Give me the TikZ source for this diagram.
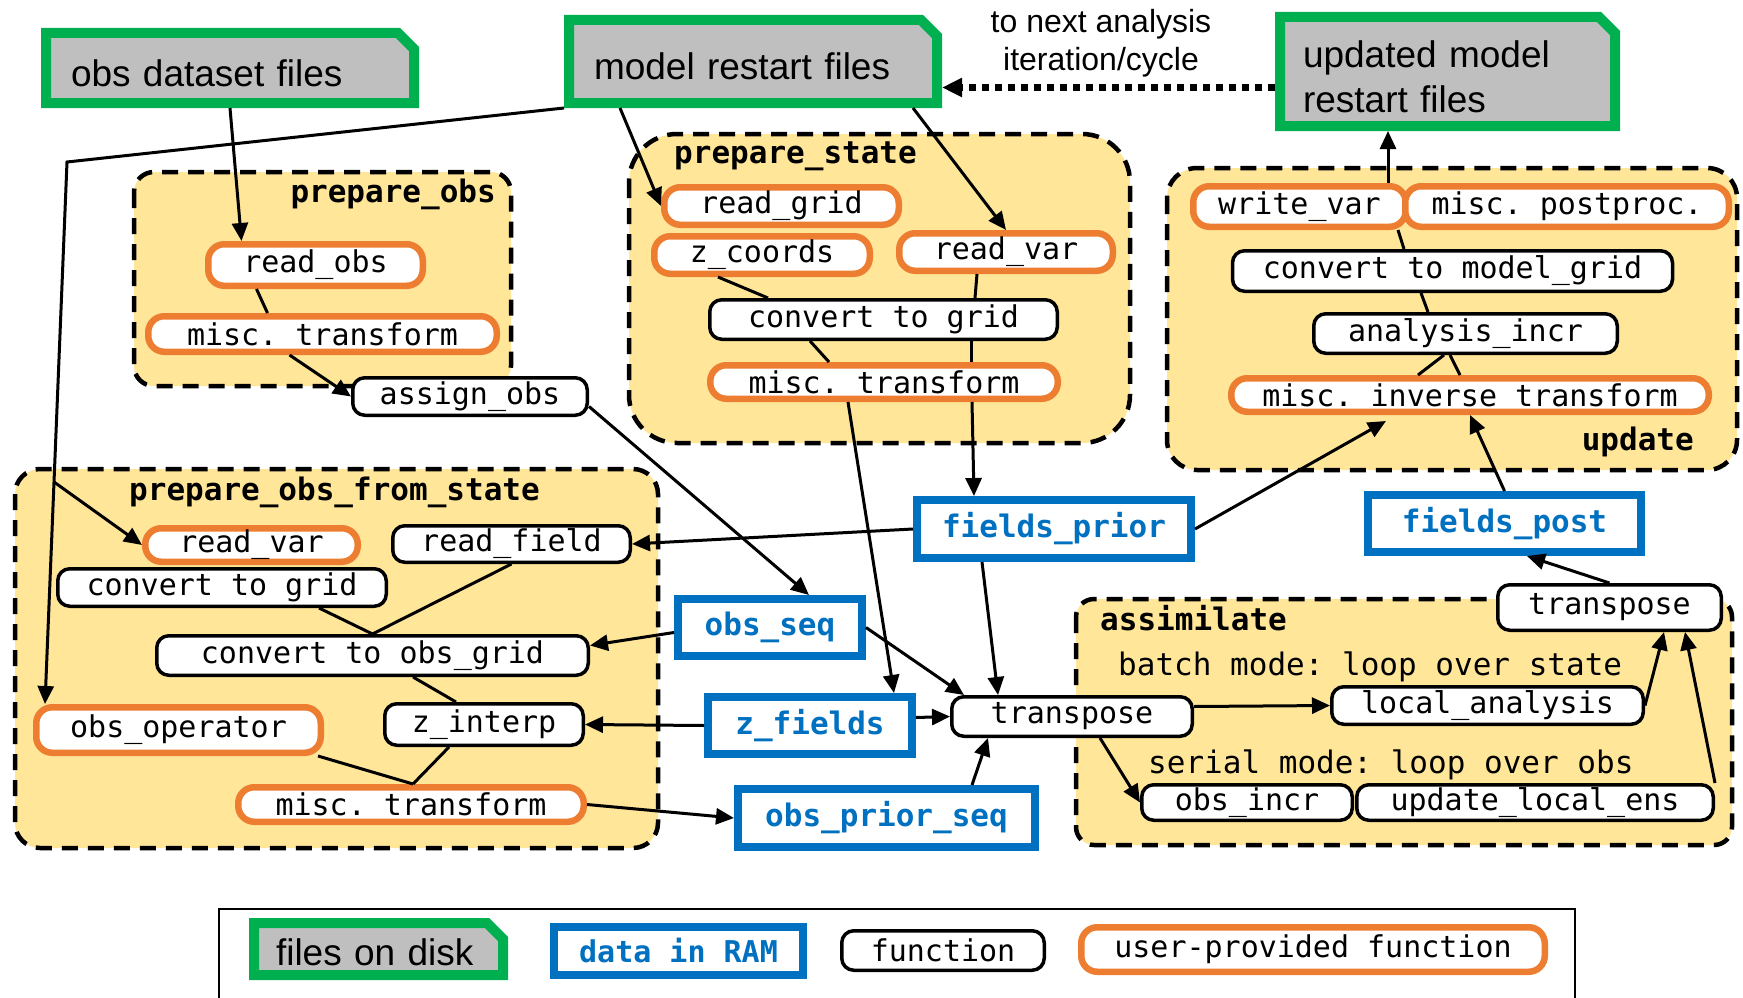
\documentclass[tikz,border=0pt]{standalone}
\usepackage{fontspec}
\setmainfont{Liberation Sans}
\setmonofont{DejaVu Sans Mono}
\usetikzlibrary{arrows.meta,shapes.misc}

\definecolor{diskgreen}{HTML}{00B050}
\definecolor{diskgray}{HTML}{BFBFBF}
\definecolor{ramblue}{HTML}{0070C0}
\definecolor{userorange}{HTML}{ED7D31}
\definecolor{groupyellow}{HTML}{FFE699}

\begin{document}
\begin{tikzpicture}[x=1pt, y=-1pt,
  disk/.style={chamfered rectangle, chamfered rectangle corners=north east,
    chamfered rectangle xsep=8pt, chamfered rectangle ysep=8pt,
    draw=diskgreen, fill=diskgray, line width=10pt, inner sep=0pt,
    text height=37pt, text depth=0pt,
    align=left, font=\fontsize{37}{45}\selectfont},
  ram/.style={rectangle, draw=ramblue, fill=white, line width=8pt, inner sep=0pt,
    text=ramblue, font=\fontsize{31}{36}\selectfont\ttfamily\bfseries},
  func/.style={rectangle, rounded corners=12pt, draw=black, fill=white,
    line width=3.5pt, inner sep=0pt, font=\fontsize{30}{34}\selectfont\ttfamily},
  ufunc/.style={func, rounded corners=16pt, draw=userorange, line width=6.5pt},
  group/.style={fill=groupyellow, draw=black, line width=4.5pt, dash pattern=on 16pt off 10pt},
  grouplabel/.style={inner sep=0pt, font=\fontsize{31}{36}\selectfont\ttfamily\bfseries},
  modelabel/.style={inner sep=0pt, font=\fontsize{31}{36}\selectfont\ttfamily},
  link/.style={line width=3pt},
  arr/.style={line width=3pt, -{Triangle[length=18pt,width=16pt]}}
]

\useasboundingbox (0,0) rectangle (1743,998);

\draw [group, rounded corners=20pt] (134,172) rectangle (511,386);
\draw [group, rounded corners=48pt] (629,134) rectangle (1130,443);
\draw [group, rounded corners=30pt] (1167,168) rectangle (1737,470);
\draw [group, rounded corners=25pt] (15,469) rectangle (658,848);
\draw [group, rounded corners=18pt] (1076,599) rectangle (1732,845);

\node [grouplabel, anchor=base east] (lblprepobs) at (496,202) {prepare\_obs};
\node [grouplabel, anchor=base west] (lblprepstate) at (674,163) {prepare\_state};
\node [grouplabel, anchor=base east] (lblupdate) at (1694,450) {update};
\node [grouplabel, anchor=base west] (lblfromstate) at (129,500) {prepare\_obs\_from\_state};
\node [grouplabel, anchor=base west] (lblassim) at (1100,630) {assimilate};
\node [modelabel, anchor=base west] (lblbatch) at (1118,675) {batch mode: loop over state};
\node [modelabel, anchor=base west] (lblserial) at (1148,773) {serial mode: loop over obs};

\node [font=\fontsize{32}{38}\selectfont, align=center] (lblnext) at (1101,43) {to next analysis\\iteration/cycle};

\node [disk, minimum width=368pt, minimum height=70pt, text width=318pt] (obsfiles) at (230,68) {obs dataset files};
\node [disk, minimum width=368pt, minimum height=83pt, text width=318pt] (modelfiles) at (753,61.5) {model restart files};
\node [disk, minimum width=335pt, minimum height=109pt, text width=289pt, text height=36pt, text depth=45pt] (updfiles) at (1447.5,71.5) {updated model\\restart files};

\node [ufunc, minimum width=214.5pt, minimum height=41.5pt] (readobs) at (315.5,265) {read\_obs};
\node [ufunc, minimum width=348.5pt, minimum height=35.5pt] (misctrA) at (322.5,334) {misc. transform};
\node [func, minimum width=234.5pt, minimum height=37.5pt] (assignobs) at (470,396.5) {assign\_obs};

\node [ufunc, minimum width=234.5pt, minimum height=37.5pt] (readgrid) at (781.5,206) {read\_grid};
\node [ufunc, minimum width=215.5pt, minimum height=37.5pt] (zcoords) at (762,255) {z\_coords};
\node [ufunc, minimum width=213.5pt, minimum height=37.5pt] (readvarS) at (1006,252) {read\_var};
\node [func, minimum width=347.5pt, minimum height=39.5pt] (convgridS) at (883.5,319.5) {convert to grid};
\node [ufunc, minimum width=347.5pt, minimum height=33.5pt] (misctrS) at (884,382) {misc. transform};

\node [ufunc, minimum width=212.5pt, minimum height=40.5pt] (writevar) at (1299.5,206.5) {write\_var};
\node [ufunc, minimum width=323.5pt, minimum height=40.5pt] (postproc) at (1567,206.5) {misc. postproc.};
\node [func, minimum width=440pt, minimum height=40.5pt] (convmodel) at (1452.5,271) {convert to model\_grid};
\node [func, minimum width=303.5pt, minimum height=39.5pt] (anaincr) at (1465.5,333.5) {analysis\_incr};
\node [ufunc, minimum width=477.5pt, minimum height=33.5pt] (misinv) at (1470,395) {misc. inverse transform};

\node [ufunc, minimum width=212.5pt, minimum height=33.5pt] (readvarO) at (251.5,545) {read\_var};
\node [func, minimum width=237.5pt, minimum height=36.5pt] (readfield) at (511.5,544) {read\_field};
\node [func, minimum width=328.5pt, minimum height=37.5pt] (convgridO) at (222,587.5) {convert to grid};
\node [func, minimum width=431.5pt, minimum height=39.5pt] (convobsgrid) at (372.5,655.5) {convert to obs\_grid};
\node [ufunc, minimum width=284.5pt, minimum height=45.5pt] (obsop) at (178.5,730) {obs\_operator};
\node [func, minimum width=198.5pt, minimum height=41.5pt] (zinterp) at (484,724.5) {z\_interp};
\node [ufunc, minimum width=345.5pt, minimum height=34.5pt] (misctrO) at (411,804.5) {misc. transform};

\node [ram, minimum width=274pt, minimum height=58pt] (fieldsprior) at (1054,529) {fields\_prior};
\node [ram, minimum width=273pt, minimum height=57pt] (fieldspost) at (1504.5,523.5) {fields\_post};
\node [ram, minimum width=184pt, minimum height=57pt] (obsseq) at (770,627.5) {obs\_seq};
\node [ram, minimum width=204pt, minimum height=57pt] (zfields) at (810,725.5) {z\_fields};
\node [ram, minimum width=297pt, minimum height=58pt] (obspriorseq) at (886.5,818) {obs\_prior\_seq};

\node [func, minimum width=223.5pt, minimum height=45.5pt] (transpA) at (1609.5,607.5) {transpose};
\node [func, minimum width=240.5pt, minimum height=39.5pt] (transpB) at (1072,716.5) {transpose};
\node [func, minimum width=311.5pt, minimum height=37.5pt] (localana) at (1487.5,705.5) {local\_analysis};
\node [func, minimum width=210.5pt, minimum height=35.5pt] (obsincr) at (1247,802.5) {obs\_incr};
\node [func, minimum width=356.5pt, minimum height=35.5pt] (updlocal) at (1535,802.5) {update\_local\_ens};

\coordinate (bend) at (67,162);
\coordinate (split) at (54,482);

\draw [arr] (obsfiles.south) -- ([xshift=-74pt]readobs.north);
\draw [link] ([xshift=-59pt]readobs.south) -- ([xshift=-55pt]misctrA.north);
\draw [arr] ([xshift=-33pt]misctrA.south) -- (assignobs.west);
\draw [arr] (modelfiles.south west) -- (bend) -- ([xshift=-133.5pt]obsop.north);
\draw [arr] (split) -- (readvarO.west);
\draw [arr] ([xshift=-133pt]modelfiles.south) -- (readgrid.west);
\draw [arr] ([xshift=160pt]modelfiles.south) -- (readvarS.north);
\draw [link] ([xshift=-44pt]zcoords.south) -- ([xshift=-115.5pt]convgridS.north);
\draw [link] ([xshift=-29pt]readvarS.south) -- ([xshift=91.5pt]convgridS.north);
\draw [link] ([xshift=-73.5pt]convgridS.south) -- ([xshift=-55pt]misctrS.north);
\draw [link] ([xshift=87.5pt]convgridS.south) -- ([xshift=87pt]misctrS.north);
\draw [arr] ([xshift=-36pt]misctrS.south) -- ([xshift=84pt]zfields.north);
\draw [arr] ([xshift=88pt]misctrS.south) -- ([xshift=-80pt]fieldsprior.north);
\draw [arr] (fieldsprior.west) -- (readfield.east);
\draw [arr] (fieldsprior.east) -- ([xshift=-84pt,yshift=-6pt]misinv.south);
\draw [arr] ([xshift=-72pt]fieldsprior.south) -- ([xshift=-74pt]transpB.north);
\draw [arr] (fieldspost.north) -- (misinv.south);
\draw [arr] ([xshift=88.5pt]writevar.north) -- ([xshift=-59.5pt]updfiles.south);
\draw [link] ([xshift=98.5pt]writevar.south) -- ([xshift=-48.5pt]convmodel.north);
\draw [link] ([xshift=-31.5pt]convmodel.south) -- ([xshift=-37.5pt]anaincr.north);
\draw [link] ([xshift=-21.5pt]anaincr.south) -- ([xshift=-52pt]misinv.north);
\draw [link] ([xshift=-15.5pt]anaincr.south) -- ([xshift=-10pt]misinv.north);
\draw [arr] ([yshift=-10pt]assignobs.east) -- ([xshift=39pt]obsseq.north);
\draw [arr] ([yshift=-5pt]obsseq.west) -- ([yshift=10pt]convobsgrid.east);
\draw [arr] (zfields.west) -- (zinterp.east);
\draw [arr] (misctrO.east) -- (obspriorseq.west);
\draw [link] ([xshift=97pt]convgridO.south) -- (convobsgrid.north);
\draw [link] (readfield.south) -- (convobsgrid.north);
\draw [link] ([xshift=40.5pt]convobsgrid.south) -- ([xshift=-28pt]zinterp.north);
\draw [link] ([xshift=139.5pt]obsop.south) -- ([xshift=2pt]misctrO.north);
\draw [link] ([xshift=-35pt]zinterp.south) -- ([xshift=2pt]misctrO.north);
\draw [arr] (obsseq.east) -- ([xshift=-108pt]transpB.north);
\draw [arr] ([yshift=8pt]zfields.east) -- (transpB.west);
\draw [arr] ([xshift=85.5pt]obspriorseq.north) -- ([xshift=-84pt]transpB.south);
\draw [arr] ([yshift=10pt]transpB.east) -- (localana.west);
\draw [arr] ([xshift=28pt]transpB.south) -- (obsincr.west);
\draw [arr] (localana.east) -- ([xshift=54.5pt]transpA.south);
\draw [arr] (updlocal.north east) -- ([xshift=75.5pt]transpA.south);
\draw [arr] (transpA.north) -- ([xshift=22.5pt]fieldspost.south);

\draw [line width=6pt, dash pattern=on 7pt off 6pt, -{Triangle[length=20pt,width=18pt]}]
  ([yshift=-16pt]updfiles.west) -- ([yshift=-26pt]modelfiles.east);

\draw [line width=2.5pt] (219,909) rectangle (1575,1020);
\node [disk, minimum width=249pt, minimum height=52pt, text width=205pt, text height=32pt] (keydisk) at (378.5,949) {files on disk};
\node [ram, minimum width=249pt, minimum height=48pt, font=\fontsize{30}{34}\selectfont\ttfamily\bfseries] (keyram) at (678.5,951) {data in RAM};
\node [func, minimum width=202.5pt, minimum height=39.5pt] (keyfunc) at (943,950.5) {function};
\node [ufunc, minimum width=463.5pt, minimum height=44.5pt] (keyufunc) at (1313,949.5) {user-provided function};

\end{tikzpicture}
\end{document}
